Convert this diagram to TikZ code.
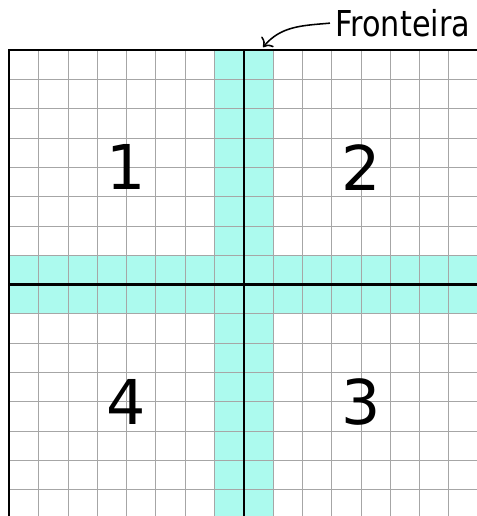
\documentclass[tikz,border=0pt]{standalone}
\usepackage{fontspec}
\usetikzlibrary{arrows.meta}
\setmainfont{DejaVu Sans}
\newfontfamily\estreita[FakeStretch=0.85]{DejaVu Sans}
\definecolor{faixa}{RGB}{172,250,238}

\begin{document}
\begin{tikzpicture}[x=0.8cm, y=0.8cm, >={To[scale=1.4]},
  malha/.style={gray!70, line width=0.6pt, xstep=0.8cm, ystep=0.8cm},
  eixo/.style={black, line width=1.6pt},
  regiao/.style={font=\fontsize{48}{48}\selectfont}]
  \useasboundingbox (-0.317,0.1) rectangle (15.93,17.71);
  % faixas da fronteira
  \fill[faixa] (7,-1) rectangle (9,16);
  \fill[faixa] (0,7) rectangle (17,9);
  \draw[malha] (0,-1) grid (17,16);
  \draw[eixo] (0,-1) -- (0,16) -- (17,16);
  \draw[eixo] (8,-1) -- (8,16);
  \draw[eixo] (0,8) -- (17,8);
  \node[regiao] (r1) at (4,12) {1};
  \node[regiao] (r2) at (12,12) {2};
  \node[regiao] (r3) at (12,4) {3};
  \node[regiao] (r4) at (4,4) {4};
  \node[font=\estreita\fontsize{27.7}{28}\selectfont, anchor=west, inner sep=0pt] (fronteira) at (11.12,16.92) {Fronteira};
  \coordinate (alvo) at (8.66,16.1);
  \draw[->, line width=1.2pt] ([xshift=-4pt]fronteira.west) to[out=185, in=50] (alvo);
\end{tikzpicture}
\end{document}
